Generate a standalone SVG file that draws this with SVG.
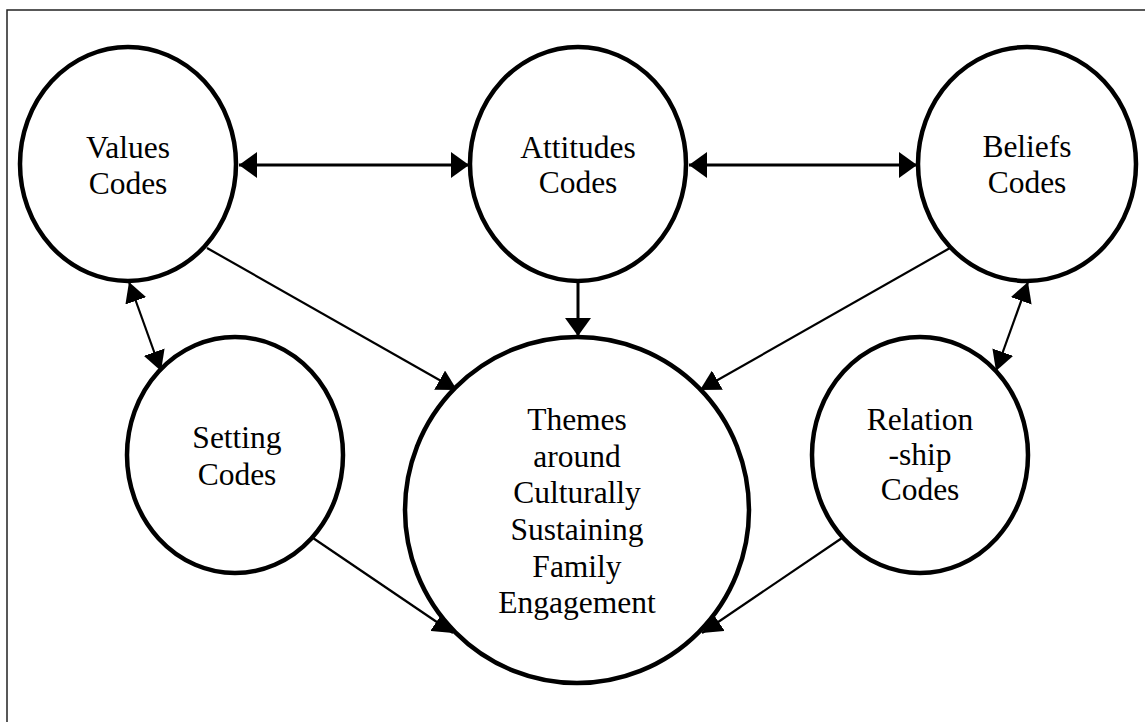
<svg xmlns="http://www.w3.org/2000/svg" width="1145" height="722" viewBox="0 0 1145 722">
<style>
.node{fill:#fff;stroke:#000;stroke-width:4.5}
.lbl{font-family:'Liberation Serif','Times New Roman',serif;font-size:31.5px;fill:#000;text-anchor:middle}
.thick{stroke:#000;stroke-width:3;fill:none}
.thin{stroke:#000;stroke-width:2.2;fill:none}
</style>
<defs>
<marker id="ah" markerUnits="userSpaceOnUse" markerWidth="18" markerHeight="26" refX="18" refY="13" orient="auto-start-reverse" viewBox="0 0 18 26">
<path d="M0,0 L18,13 L0,26 z" fill="#000"/>
</marker>
<marker id="as" markerUnits="userSpaceOnUse" markerWidth="20" markerHeight="22" refX="20" refY="11" orient="auto-start-reverse" viewBox="0 0 20 22">
<path d="M0,0 L20,11 L0,22 z" fill="#000"/>
</marker>
</defs>
<rect x="7" y="10" width="1150" height="730" fill="#fff" stroke="#222" stroke-width="1.5"/>
<g id="connectors">
<line class="thick" x1="239" y1="165" x2="469" y2="165" marker-start="url(#ah)" marker-end="url(#ah)"/>
<line class="thick" x1="689" y1="165" x2="917" y2="165" marker-start="url(#ah)" marker-end="url(#ah)"/>
<line class="thick" x1="578" y1="283" x2="578" y2="336" marker-end="url(#ah)"/>
<line class="thin" x1="207" y1="248" x2="457" y2="390" marker-end="url(#as)"/>
<line class="thin" x1="950" y1="248" x2="700" y2="390" marker-end="url(#as)"/>
<line class="thin" x1="313" y1="538" x2="453" y2="633" marker-end="url(#as)"/>
<line class="thin" x1="842" y1="538" x2="702" y2="633" marker-end="url(#as)"/>
<line class="thin" x1="129" y1="282" x2="161" y2="371" marker-start="url(#as)" marker-end="url(#as)"/>
<line class="thin" x1="1028" y1="282" x2="996" y2="371" marker-start="url(#as)" marker-end="url(#as)"/>
</g>
<g id="values">
<ellipse class="node" cx="128" cy="164" rx="108" ry="117"/>
<text class="lbl" x="128" y="158">Values</text>
<text class="lbl" x="128" y="194">Codes</text>
</g>
<g id="attitudes">
<ellipse class="node" cx="578" cy="164" rx="108" ry="117"/>
<text class="lbl" x="578" y="158">Attitudes</text>
<text class="lbl" x="578" y="193">Codes</text>
</g>
<g id="beliefs">
<ellipse class="node" cx="1027" cy="164" rx="109" ry="117"/>
<text class="lbl" x="1027" y="157">Beliefs</text>
<text class="lbl" x="1027" y="193">Codes</text>
</g>
<g id="setting">
<ellipse class="node" cx="235" cy="455" rx="108" ry="118"/>
<text class="lbl" x="237" y="448">Setting</text>
<text class="lbl" x="237" y="485">Codes</text>
</g>
<g id="themes">
<ellipse class="node" cx="577" cy="510" rx="172" ry="173"/>
<text class="lbl" x="577" y="430">Themes</text>
<text class="lbl" x="577" y="467">around</text>
<text class="lbl" x="577" y="503">Culturally</text>
<text class="lbl" x="577" y="540">Sustaining</text>
<text class="lbl" x="577" y="577">Family</text>
<text class="lbl" x="577" y="613">Engagement</text>
</g>
<g id="relationship">
<ellipse class="node" cx="920" cy="455" rx="108" ry="118"/>
<text class="lbl" x="920" y="430">Relation</text>
<text class="lbl" x="920" y="465">-ship</text>
<text class="lbl" x="920" y="500">Codes</text>
</g>
</svg>
